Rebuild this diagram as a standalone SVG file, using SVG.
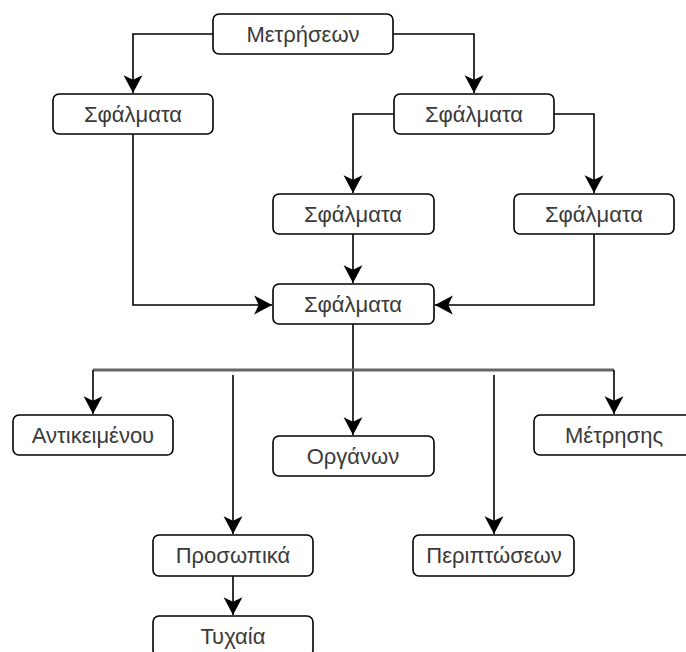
<svg xmlns="http://www.w3.org/2000/svg" width="686" height="652" viewBox="0 0 686 652">
<style>
.box{fill:#fff;stroke:#000;stroke-width:1.6}
.lbl{font-family:"Liberation Sans",Arial,sans-serif;font-size:22px;fill:#3a3a3a;text-anchor:middle}
.ln{fill:none;stroke:#000;stroke-width:1.6}
</style>
<defs>
<marker id="ah" markerUnits="userSpaceOnUse" markerWidth="20" markerHeight="20" viewBox="-16 -9 17 18" refX="0" refY="0" orient="auto">
<path d="M-16,-8.5 L0,0 L-16,8.5 L-12,0 Z" fill="#000"/>
</marker>
</defs>
<rect width="686" height="652" fill="#fff"/>
<g id="connectors">
<path class="ln" d="M213,34 H133 V93" marker-end="url(#ah)"/>
<path class="ln" d="M393,34 H474 V93" marker-end="url(#ah)"/>
<path class="ln" d="M394,114 H353 V193" marker-end="url(#ah)"/>
<path class="ln" d="M554,114 H594 V193" marker-end="url(#ah)"/>
<path class="ln" d="M353,234 V283" marker-end="url(#ah)"/>
<path class="ln" d="M133,134 V305 H272" marker-end="url(#ah)"/>
<path class="ln" d="M594,234 V305 H435" marker-end="url(#ah)"/>
<path class="ln" d="M353,324 V435" marker-end="url(#ah)"/>
<path fill="none" stroke="#666" stroke-width="3" d="M93,370 H614"/>
<path class="ln" d="M93,370 V414" marker-end="url(#ah)"/>
<path class="ln" d="M614,370 V414" marker-end="url(#ah)"/>
<path class="ln" d="M233,375 V534" marker-end="url(#ah)"/>
<path class="ln" d="M494,375 V534" marker-end="url(#ah)"/>
<path class="ln" d="M233,576 V615" marker-end="url(#ah)"/>
</g>
<g id="n-metriseon"><rect class="box" x="213" y="14" width="180" height="40" rx="6"/><text class="lbl" x="303" y="42">Μετρήσεων</text></g>
<g id="n-sfalmata-l"><rect class="box" x="53" y="94" width="160" height="40" rx="6"/><text class="lbl" x="133" y="122">Σφάλματα</text></g>
<g id="n-sfalmata-r"><rect class="box" x="394" y="94" width="160" height="40" rx="6"/><text class="lbl" x="474" y="122">Σφάλματα</text></g>
<g id="n-sfalmata-m3"><rect class="box" x="273" y="194" width="161" height="40" rx="6"/><text class="lbl" x="353" y="222">Σφάλματα</text></g>
<g id="n-sfalmata-r3"><rect class="box" x="514" y="194" width="160" height="40" rx="6"/><text class="lbl" x="594" y="222">Σφάλματα</text></g>
<g id="n-sfalmata-4"><rect class="box" x="273" y="284" width="161" height="40" rx="6"/><text class="lbl" x="353" y="312">Σφάλματα</text></g>
<g id="n-antikeimenou"><rect class="box" x="13" y="415" width="160" height="40" rx="6"/><text class="lbl" x="93" y="443">Αντικειμένου</text></g>
<g id="n-organon"><rect class="box" x="273" y="436" width="161" height="40" rx="6"/><text class="lbl" x="353" y="464">Οργάνων</text></g>
<g id="n-metrisis"><rect class="box" x="534" y="415" width="160" height="40" rx="6"/><text class="lbl" x="614" y="443">Μέτρησης</text></g>
<g id="n-prosopika"><rect class="box" x="153" y="535" width="160" height="41" rx="6"/><text class="lbl" x="233" y="563">Προσωπικά</text></g>
<g id="n-periptoseon"><rect class="box" x="413" y="535" width="161" height="41" rx="6"/><text class="lbl" x="494" y="563">Περιπτώσεων</text></g>
<g id="n-tyxaia"><rect class="box" x="153" y="616" width="160" height="40" rx="6"/><text class="lbl" x="233" y="644">Τυχαία</text></g>
</svg>
